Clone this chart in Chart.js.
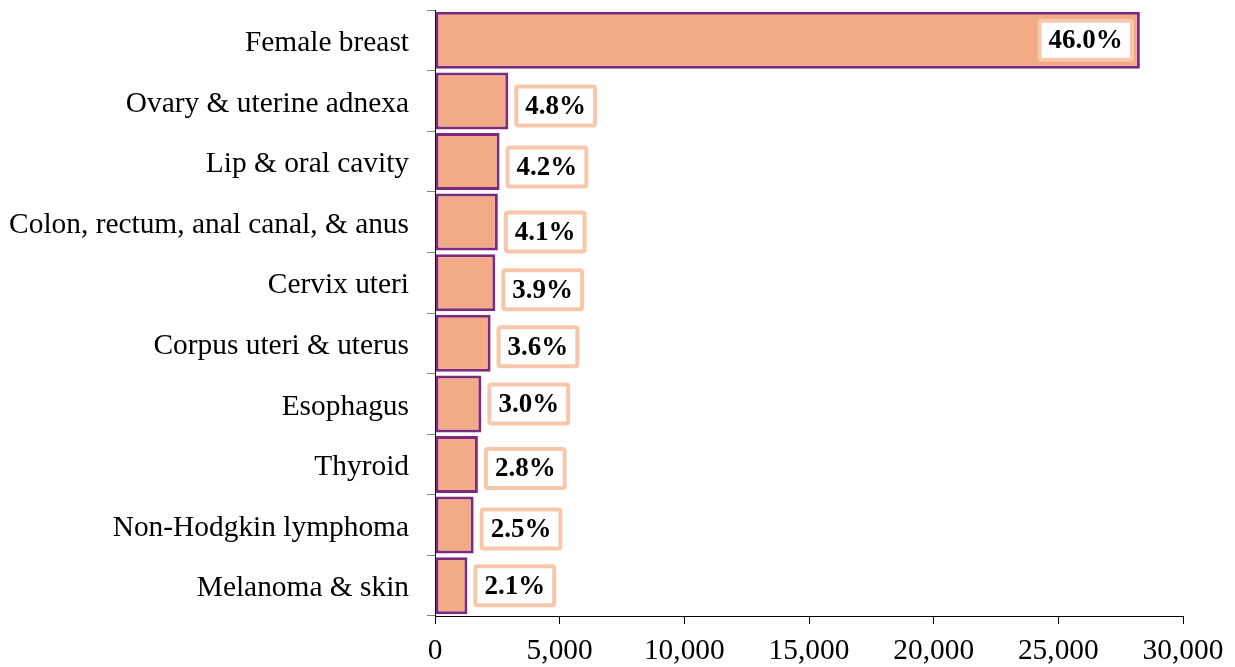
<!DOCTYPE html>
<html>
<head>
<meta charset="utf-8">
<script src="https://cdn.jsdelivr.net/npm/chart.js@4.4.0/dist/chart.umd.min.js"></script>
<style>
	html, body { margin: 0; padding: 0; background: #fff; }
	#wrap { width: 1235px; height: 667px; }
</style>
</head>
<body>
<div id="wrap"><canvas id="myChart"></canvas></div>
<script>
const categories = [
	'Female breast',
	'Ovary & uterine adnexa',
	'Lip & oral cavity',
	'Colon, rectum, anal canal, & anus',
	'Cervix uteri',
	'Corpus uteri & uterus',
	'Esophagus',
	'Thyroid',
	'Non-Hodgkin lymphoma',
	'Melanoma & skin'
];
const cases = [28270, 2940, 2590, 2520, 2420, 2230, 1860, 1720, 1550, 1300];
const percents = [46.0, 4.8, 4.2, 4.1, 3.9, 3.6, 3.0, 2.8, 2.5, 2.1];
const xTicks = [0, 5000, 10000, 15000, 20000, 25000, 30000];

const serif = '"Liberation Serif", "Times New Roman", serif';

// boxed percentage labels next to each bar
const boxLabels = {
	id: 'boxLabels',
	afterDatasetsDraw(chart, args, opts) {
		const ctx = chart.ctx;
		const meta = chart.getDatasetMeta(0);
		ctx.save();
		ctx.font = 'bold 27px ' + serif;
		ctx.textBaseline = 'middle';
		ctx.textAlign = 'center';
		meta.data.forEach(function (bar, i) {
			const text = percents[i].toFixed(1) + '%';
			const w = ctx.measureText(text).width + 22;
			const h = 43;
			let left = bar.x + 6;
			if (left + w > chart.chartArea.right - 20) {
				left = bar.x - 6 - w;
			}
			const cy = bar.y + (opts.nudge[i] || 0);
			const top = cy - h / 2;
			ctx.beginPath();
			ctx.roundRect(left + 2, top + 2, w - 4, h - 4, 2);
			ctx.fillStyle = '#ffffff';
			ctx.fill();
			ctx.lineWidth = 4;
			ctx.strokeStyle = i === 0 ? '#f8c8ad' : '#f8c6aa';
			ctx.stroke();
			ctx.fillStyle = '#000000';
			ctx.fillText(text, left + w / 2, cy + 1);
		});
		ctx.restore();
	}
};

new Chart(document.getElementById('myChart'), {
	type: 'bar',
	data: {
		labels: categories,
		datasets: [{
			data: cases,
			backgroundColor: '#f2ab86',
			borderColor: '#7d2a7e',
			borderWidth: 3,
			borderSkipped: false,
			barPercentage: 0.94,
			categoryPercentage: 1
		}]
	},
	options: {
		indexAxis: 'y',
		responsive: true,
		maintainAspectRatio: false,
		animation: false,
		layout: {
			padding: { top: 10, right: 52, bottom: 0, left: 0 }
		},
		plugins: {
			legend: { display: false },
			tooltip: { enabled: false },
			boxLabels: {
				nudge: [0, 5, 5.5, 10, 7, 3.5, 0, 4, 4, 0]
			}
		},
		scales: {
			x: {
				min: 0,
				max: 30000,
				afterFit(scale) {
					scale.height = 51;
					scale.paddingLeft = 0;
					scale.paddingRight = 0;
				},
				afterBuildTicks(scale) {
					scale.ticks = xTicks.map(v => ({ value: v }));
				},
				grid: {
					drawOnChartArea: false,
					drawTicks: true,
					tickLength: 8,
					color: '#000000',
					lineWidth: 1
				},
				border: { display: true, color: '#000000', width: 1 },
				ticks: {
					padding: 10,
					color: '#000000',
					maxRotation: 0,
					font: { family: serif, size: 29.4 },
					callback: v => v.toLocaleString('en-US')
				}
			},
			y: {
				afterFit(scale) {
					scale.width = 435;
					scale.paddingTop = 0;
					scale.paddingBottom = 0;
				},
				grid: {
					offset: true,
					drawOnChartArea: false,
					drawTicks: true,
					tickLength: 8,
					color: '#808080',
					lineWidth: 1
				},
				border: { display: true, color: '#000000', width: 1 },
				ticks: {
					padding: 18,
					labelOffset: 3,
					color: '#000000',
					font: { family: serif, size: 29.4 }
				}
			}
		}
	},
	plugins: [boxLabels]
});
</script>
</body>
</html>
